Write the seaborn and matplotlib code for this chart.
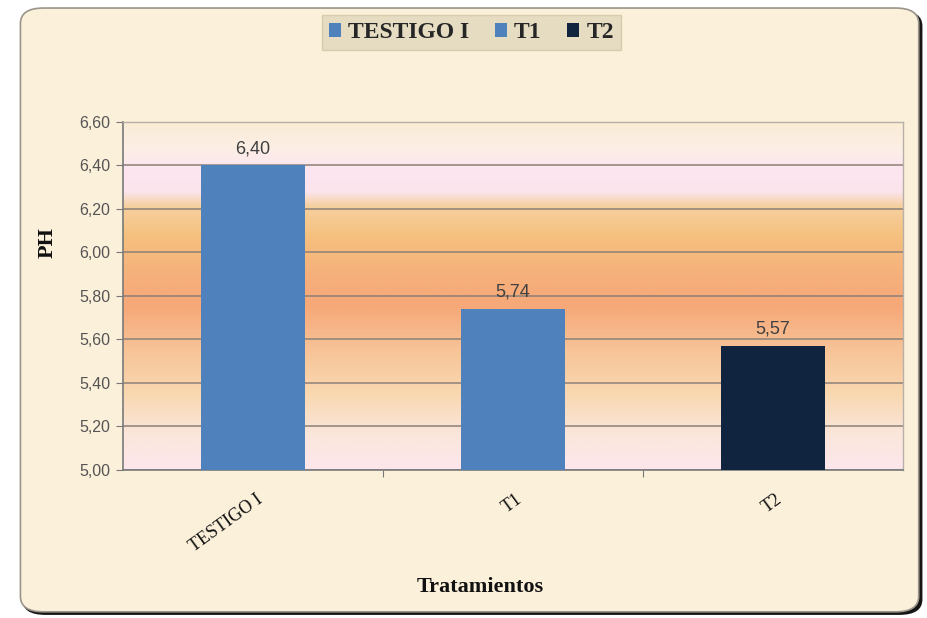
import numpy as np
import pandas as pd
import matplotlib
matplotlib.use('Agg')
import matplotlib.pyplot as plt
import seaborn as sns
from matplotlib.colors import LinearSegmentedColormap
from matplotlib.patches import FancyBboxPatch

# data
tratamientos = ['TESTIGO I', 'T1', 'T2']
ph = [6.40, 5.74, 5.57]
colores = ['#4f81bd', '#4f81bd', '#10243f']

df = pd.DataFrame({'Tratamientos': tratamientos, 'PH': ph})

sns.set_style('white')
fig = plt.figure(figsize=(9.28, 6.18), dpi=100)
fig.patch.set_facecolor('white')

# outer rounded frame with dark shadow
shadow = FancyBboxPatch((0.024, 0.005), 0.970, 0.978, boxstyle='round,pad=0,rounding_size=0.025',
                        transform=fig.transFigure, facecolor='#151515', edgecolor='none', zorder=-3)
frame = FancyBboxPatch((0.022, 0.010), 0.968, 0.977, boxstyle='round,pad=0,rounding_size=0.025',
                       transform=fig.transFigure, facecolor='#fbf0da', edgecolor='#9a948a',
                       linewidth=1.2, zorder=-2)
fig.patches.extend([shadow, frame])

ax = fig.add_axes([0.1325, 0.2395, 0.8405, 0.5631])
ax.set_facecolor('none')

# vertical gradient of the plot area (bottom -> top)
stops = [(0.0, '#fde6ec'), (0.10, '#fbe6dc'), (0.22, '#f9d8b0'), (0.35, '#f7c296'),
         (0.47, '#f6a878'), (0.56, '#f6b07c'), (0.67, '#f5c07e'), (0.76, '#f7d0a0'),
         (0.80, '#fbe4ec'), (0.87, '#fde6f0'), (0.93, '#fcefe4'), (1.0, '#fbecd6')]
cmap = LinearSegmentedColormap.from_list('fondo', stops)
grad = np.linspace(0, 1, 256).reshape(-1, 1)
ax.imshow(grad, cmap=cmap, origin='lower', aspect='auto', extent=[0, 1, 0, 1],
          transform=ax.transAxes, zorder=0)

sns.barplot(data=df, x='Tratamientos', y='PH', hue='Tratamientos', palette=colores,
            width=0.4, dodge=False, saturation=1, legend=True, ax=ax, zorder=3,
            linewidth=0, edgecolor='none')

ax.set_ylim(5.0, 6.6)
ax.set_xlim(-0.5, 2.5)
ax.set_yticks(np.arange(5.0, 6.61, 0.2))
ax.set_yticklabels([f'{v:.2f}'.replace('.', ',') for v in np.arange(5.0, 6.61, 0.2)],
                   fontsize=11.5, color='#555555', family='Liberation Sans')
ax.yaxis.grid(True, color='#8c8078', linewidth=1.1, zorder=1)
ax.set_axisbelow(True)
for gl in ax.get_ygridlines():
    gl.set_zorder(1)

# category ticks sit between bars, as in the original
ax.set_xticks([0.5, 1.5], minor=False)
ax.set_xticklabels([])
ax.tick_params(axis='x', which='major', length=5, color='#777777', direction='out', bottom=True)
ax.tick_params(axis='y', length=5, color='#777777', direction='out', left=True, pad=4)
for i, t in enumerate(tratamientos):
    ax.text(i + 0.01, 4.905, t, rotation=36, ha='right', va='top', rotation_mode='anchor',
            fontsize=13, family='Liberation Serif', color='#111111', transform=ax.transData)

for side in ['left', 'bottom']:
    ax.spines[side].set_color('#7a7a7a')
    ax.spines[side].set_linewidth(1.2)
for side in ['top', 'right']:
    ax.spines[side].set_color('#b8b0a8')
    ax.spines[side].set_linewidth(1.0)

for c in ax.containers:
    ax.bar_label(c, labels=[f'{v:.2f}'.replace('.', ',') for v in c.datavalues],
                 padding=6, fontsize=13, color='#404040', family='Liberation Sans')

ax.set_xlabel('')
ax.set_ylabel('')
fig.text(0.051, 0.607, 'PH', rotation=90, ha='center', va='center', fontsize=16,
         fontweight='bold', family='Liberation Serif', color='#111111')
fig.text(0.518, 0.050, 'Tratamientos', ha='center', va='center', fontsize=16,
         fontweight='bold', family='Liberation Serif', color='#111111')

# legend at the top
handles, labels = ax.get_legend_handles_labels()
ax.legend_.remove()
leg = fig.legend(handles, labels, loc='center', bbox_to_anchor=(0.508, 0.947), ncol=3,
                 prop={'family': 'Liberation Serif', 'weight': 'bold', 'size': 17},
                 handlelength=0.5, handleheight=0.5, handletextpad=0.3, columnspacing=1.1,
                 borderpad=0.3, frameon=True, fancybox=False, facecolor='#e6dcc2',
                 edgecolor='#d8ccb0', framealpha=1)

fig.savefig('out.png', dpi=100)
